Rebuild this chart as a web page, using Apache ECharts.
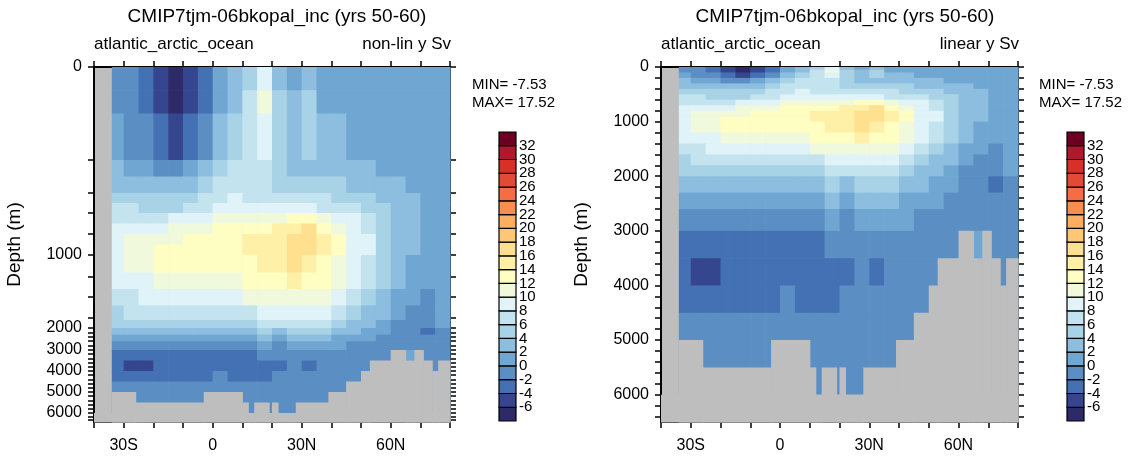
<!DOCTYPE html>
<html><head><meta charset="utf-8">
<script src="https://cdn.jsdelivr.net/npm/echarts@6/dist/echarts.min.js"></script>
<style>html,body{margin:0;padding:0;background:#fff}#c{width:1134px;height:463px}</style>
</head><body><div id="c"></div>
<script>
// latitude cell edges (deg)
const latEdges = [-34,-30,-25,-20,-15,-10,-5,0,5,10,15,20,25,30,35,40,45,50,55,60,65,70,75,80];
// depth cell edges (m)
const depthEdges = [0,50,100,200,300,400,500,600,700,800,900,1000,1200,1400,1600,1800,2000,2300,2600,3000,3500,4000,4500,6000];
// streamfunction (Sv), one row per depth cell, one value per latitude cell
const sv = [
 [-1,-1,-3,-5,-7,-5,-3, 1,3,5,9,3,1,3,1,1,1,1,1,1,1,1,1],
 [-1,-1,-3,-5,-7,-5,-3, 1,3,7,11,5,3,5,1,1,1,1,1,1,1,1,1],
 [1,-1,-1,-3,-5,-3,-1, 3,5,7,9,5,3,5,3,3,1,1,1,1,1,1,1],
 [3,1,1,-1,-1,1,3, 5,7,7,7,5,3,3,3,3,3,3,1,1,1,1,1],
 [3,3,3,3,3,3,5, 7,7,7,7,5,5,5,5,5,3,3,3,3,1,1,1],
 [5,5,5,5,5,5,7, 7,9,7,7,7,7,7,7,5,5,5,3,3,3,1,1],
 [7,7,5,5,5,7,7, 9,9,9,9,9,9,9,7,7,7,5,5,3,3,1,1],
 [7,7,7,7,9,9,9, 11,11,11,11,11,13,13,11,9,9,7,5,3,3,1,1],
 [9,9,9,9,11,11,11, 13,13,13,13,15,15,17,13,11,9,7,5,3,3,1,1],
 [9,11,11,11,11,13,13, 13,13,15,15,15,17,17,15,13,9,9,5,3,3,1,1],
 [9,11,11,13,13,13,13, 13,13,15,15,15,17,17,15,13,9,9,5,3,3,1,1],
 [9,11,11,13,13,13,13, 13,13,13,15,15,17,15,13,11,9,7,5,3,1,1,1],
 [9,9,9,11,11,11,11, 11,11,13,13,13,15,13,13,11,9,7,5,3,1,1,1],
 [7,7,9,9,9,9,9, 9,9,11,11,11,11,11,11,9,7,5,3,1,1,-1,1],
 [5,7,7,7,7,7,7, 7,7,7,9,9,9,9,9,7,5,3,3,1,-1,-1,1],
 [5,5,5,5,5,5,5, 5,5,5,7,7,7,7,7,5,3,3,1,-1,-1,-1,1],
 [3,3,3,3,3,3,3, 3,3,3,5,3,5,5,5,3,3,1,1,-1,-1,-3,-1],
 [1,1,1,1,1,1,1, 1,1,1,3,1,3,3,3,1,1,1,-1,-1,-1,-1,-1],
 [-1,-1,-1,-1,-1,-1,-1, -1,-1,-1,1,-1,1,1,1,1,-1,-1,-1,-1,-1,-1,-1],
 [-3,-3,-3,-3,-3,-3,-3, -3,-3,-3,-1,-1,-1,-1,-1,-1,-1,-1,-1,-1,1,-1,-1],
 [-3,-5,-5,-3,-3,-3,-3, -3,-3,-3,-3,-3,-1,-3,-1,-1,-1,-1,-1,-1,-1,-1,-1],
 [-3,-3,-3,-3,-3,-3,-3, -1,-3,-3,-3,-1,-1,-1,-1,-1,-1,-1,-1,-1,-1,-1,-1],
 [-1,-1,-1,-1,-1,-1,-1, -1,-1,-1,-1,-1,-1,-1,-1,-1,-1,-1,-1,-1,-1,-1,-1]
];
// ocean floor: [lat0, lat1, bottom depth m]
const bathy = [[-34,-26,5000],[-26,-3,5500],[-3,10,5000],[10,12,5500],[12,14,6000],[14,19,5500],[19,20,6000],[20,22,5500],[22,28,6000],[28,39,5500],[39,45,5000],[45,50,4500],[50,53,4000],[53,60,3500],[60,65,3000],[65,68,3500],[68,71,3000],[71,74,3500],[74,76,4000],[76,80,3500]];
const levels = [-6,-4,-2,0,2,4,6,8,10,12,14,16,18,20,22,24,26,28,30,32];
const colors = ['#2c2a68','#35468f','#4371b4','#5b8fc4','#70a7d2','#8dbedf','#a8d3e7','#c3e4ef','#e0f3f8','#f0f9dc','#fefec2','#fef1a7','#fee08f','#fdc776','#fdae61','#f88d52','#f46d43','#e34a33','#d73027','#b2182b','#6d0022'];
const latTicksMajor = [-30,0,30,60];
const latTicksAll = [-40,-30,-20,-10,0,10,20,30,40,50,60,70,80];
const latLabels = {'-30':'30S','0':'0','30':'30N','60':'60N'};
const depthMajor = [0,1000,2000,3000,4000,5000,6000];

// non-linear depth axis knots (depth m -> axis units)
const knotsD = [0,200,400,600,800,1000,1250,1500,1750,2000,3000,4000,5000,6000,6500];
const knotsY = [0,93,126,146,167,188,210,230,251,261,283,304,325,346,355];
function fnl(d){for(let i=1;i<knotsD.length;i++){if(d<=knotsD[i]){const t=(d-knotsD[i-1])/(knotsD[i]-knotsD[i-1]);return knotsY[i-1]+t*(knotsY[i]-knotsY[i-1]);}}return 355;}
function colorOf(v){let i=Math.floor((v+8)/2);i=Math.max(0,Math.min(20,i));return colors[i];}

function fieldData(tf){const out=[];for(let r=0;r<sv.length;r++)for(let c=0;c<sv[r].length;c++)out.push([latEdges[c],latEdges[c+1],tf(depthEdges[r]),tf(depthEdges[r+1]),sv[r][c]]);return out;}
function landData(tf){const out=bathy.map(b=>[b[0],b[1],tf(b[2]),tf(6500)]);out.push([-40,80,tf(6000),tf(6500)]);return out;}
function rectItem(params,api,fill){
  const p0=api.coord([api.value(0),api.value(2)]),p1=api.coord([api.value(1),api.value(3)]);
  return {type:'rect',shape:{x:Math.min(p0[0],p1[0]),y:Math.min(p0[1],p1[1]),width:Math.abs(p1[0]-p0[0])+0.6,height:Math.abs(p1[1]-p0[1])+0.6},style:{fill:fill}};
}
const F='Liberation Sans';
const tick={show:true,inside:false,length:6,lineStyle:{width:1.5,color:'#000'}};
function xAxes(gi){
  const base={type:'value',gridIndex:gi,min:-40,max:80,splitLine:{show:false},axisLine:{show:true,onZero:false,lineStyle:{color:'#000',width:2}}};
  return [
   Object.assign({},base,{position:'bottom',axisTick:Object.assign({customValues:latTicksAll},tick),axisLabel:{show:true,fontSize:16,fontFamily:F,color:'#000',margin:16,customValues:latTicksMajor,formatter:v=>latLabels[String(v)]}}),
   Object.assign({},base,{position:'top',axisTick:Object.assign({customValues:latTicksAll},tick),axisLabel:{show:false}})
  ];
}
function yAxes(gi,tf,max,minorD){
  const maj=depthMajor.map(tf), all=depthMajor.concat(minorD).map(tf);
  const lab={};depthMajor.forEach(d=>lab[tf(d).toFixed(3)]=String(d));
  const base={type:'value',gridIndex:gi,min:0,max:max,inverse:true,splitLine:{show:false},axisLine:{show:true,onZero:false,lineStyle:{color:'#000',width:2}}};
  return [
   Object.assign({},base,{position:'left',name:'Depth (m)',nameLocation:'middle',nameGap:70,nameTextStyle:{fontFamily:F,fontSize:19,color:'#000'},axisTick:Object.assign({customValues:all},tick),axisLabel:{show:true,fontFamily:F,fontSize:16,color:'#000',margin:12,hideOverlap:false,customValues:maj,formatter:v=>lab[v.toFixed(3)]||''}}),
   Object.assign({},base,{position:'right',axisTick:Object.assign({customValues:all},tick),axisLabel:{show:false}})
  ];
}
const minorNL=[200,400,600,800,1250,1500,1750];for(let d=2200;d<=6400;d+=200){if(d%1000)minorNL.push(d);}
const minorL=[];for(let d=200;d<=6400;d+=200){if(d%1000)minorL.push(d);}
const lin=d=>d;

const xa=[...xAxes(0),...xAxes(1),{type:'value',gridIndex:2,min:0,max:1,show:false},{type:'value',gridIndex:3,min:0,max:1,show:false}];
const cbY=gi=>({type:'value',gridIndex:gi,min:-8,max:34,interval:2,position:'right',splitLine:{show:false},axisLine:{show:false},axisTick:{show:false},axisLabel:{show:true,fontFamily:F,fontSize:15,color:'#000',margin:3,showMinLabel:true,showMaxLabel:true,hideOverlap:false,formatter:v=>levels.indexOf(v)>=0?String(v):''}});
const ya=[...yAxes(0,fnl,355,minorNL),...yAxes(1,lin,6500,minorL),cbY(2),cbY(3)];

const cbData=colors.map((c,i)=>[0,1,-8+2*i,-6+2*i,-7+2*i]);
function series(gi,tf){
  return [
   {type:'custom',xAxisIndex:gi*2,yAxisIndex:gi*2,data:fieldData(tf),encode:{x:[0,1],y:[2,3]},renderItem:(p,api)=>rectItem(p,api,colorOf(api.value(4)))},
   {type:'custom',xAxisIndex:gi*2,yAxisIndex:gi*2,data:landData(tf),encode:{x:[0,1],y:[2,3]},renderItem:(p,api)=>rectItem(p,api,'#bebebe')}
  ];
}
const cbSeries=gi=>({type:'custom',xAxisIndex:4+gi,yAxisIndex:4+gi,data:cbData,encode:{x:[0,1],y:[2,3]},renderItem:(p,api)=>{const p0=api.coord([0,api.value(2)]),p1=api.coord([1,api.value(3)]);return {type:'rect',shape:{x:p0[0],y:p1[1],width:p1[0]-p0[0],height:p0[1]-p1[1]},style:{fill:colorOf(api.value(4)),stroke:'#000',lineWidth:1.2}};}});

const chart=echarts.init(document.getElementById('c'),null,{renderer:'canvas'});
chart.setOption({
  animation:false,
  grid:[
   {left:94,top:67,width:356,height:355,show:true,backgroundColor:'#bebebe',borderWidth:0},
   {left:661,top:67,width:357,height:355,show:true,backgroundColor:'#bebebe',borderWidth:0},
   {left:499,top:132,width:17,height:289},
   {left:1067,top:132,width:17,height:289}
  ],
  title:[
   {text:'CMIP7tjm-06bkopal_inc (yrs 50-60)',left:272,top:2,textAlign:'center',textStyle:{fontFamily:F,fontSize:19,fontWeight:'normal',color:'#000'}},
   {text:'CMIP7tjm-06bkopal_inc (yrs 50-60)',left:840,top:2,textAlign:'center',textStyle:{fontFamily:F,fontSize:19,fontWeight:'normal',color:'#000'}}
  ],
  graphic:[
   {type:'text',left:94,top:36,style:{text:'atlantic_arctic_ocean',fontSize:17,fontFamily:F,fill:'#000'}},
   {type:'text',right:1134-451,top:36,style:{text:'non-lin y Sv',fontSize:17,fontFamily:F,fill:'#000'}},
   {type:'text',left:661,top:36,style:{text:'atlantic_arctic_ocean',fontSize:17,fontFamily:F,fill:'#000'}},
   {type:'text',right:1134-1019,top:36,style:{text:'linear y Sv',fontSize:17,fontFamily:F,fill:'#000'}},
   {type:'text',left:472,top:76,style:{text:'MIN= -7.53\nMAX= 17.52',fontSize:15,lineHeight:18,fontFamily:F,fill:'#000'}},
   {type:'text',left:1039,top:76,style:{text:'MIN= -7.53\nMAX= 17.52',fontSize:15,lineHeight:18,fontFamily:F,fill:'#000'}}
  ],
  xAxis:xa, yAxis:ya,
  series:[...series(0,fnl),...series(1,lin),cbSeries(0),cbSeries(1)]
});
</script></body></html>
